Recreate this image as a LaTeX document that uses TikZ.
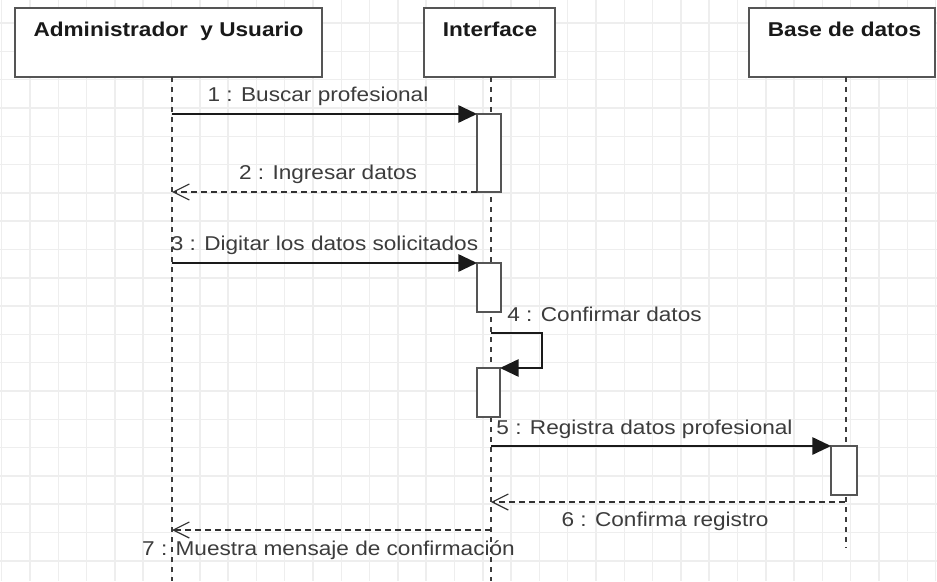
\documentclass[tikz,border=0pt]{standalone}
\usepackage{fontspec}
\setmainfont[FakeStretch=1.13]{Liberation Sans}
\usetikzlibrary{arrows.meta,fit}
\definecolor{gridc}{HTML}{EEEEEE}
\definecolor{boxc}{HTML}{555555}
\definecolor{labc}{HTML}{3C3C3C}
\definecolor{linec}{HTML}{1A1A1A}
\begin{document}
\begin{tikzpicture}[x=0.75pt,y=-0.75pt,
  gridline/.style={draw=gridc, line width=1.1pt},
  actorbox/.style={draw=boxc, line width=1.5pt, fill=white, inner sep=0pt, outer sep=0pt},
  actbox/.style={draw=boxc, line width=1.5pt, fill=white, inner sep=0pt, outer sep=0pt},
  head/.style={font=\fontsize{15pt}{18pt}\selectfont\bfseries, text=black!90, inner sep=0pt, anchor=base},
  msglabel/.style={font=\fontsize{15pt}{18pt}\selectfont, text=labc, inner sep=0pt, anchor=base},
  life/.style={draw=linec!85, line width=1.1pt, dash pattern=on 3.75pt off 3.75pt},
  sync/.style={draw=linec, line width=1.4pt, -{Triangle[length=14pt,width=13pt]}},
  ret/.style={draw=linec!90, line width=1.1pt, dash pattern=on 4.5pt off 3pt,
              -{Straight Barb[length=12pt,width=12pt,line width=0.9pt]}}
]
% canvas
\fill[white] (0,0) rectangle (937,581);
\useasboundingbox (0,0) rectangle (937,581);

% background grid
\foreach \i in {0,...,33} {\draw[gridline] ({1.7+28.3*\i},0) -- ({1.7+28.3*\i},581);}
\foreach \j in {0,...,19} {\draw[gridline] (0,{23.1+28.3*\j}) -- (937,{23.1+28.3*\j});}

% participants
\node[actorbox, fit={(15,8) (322,77)}] (A) {};
\node[actorbox, fit={(424,8) (555,77)}] (I) {};
\node[actorbox, fit={(749,8) (935,77)}] (B) {};
\node[head] (At) at (168.5,37) {Administrador~ y Usuario};
\node[head] (It) at (490,37) {Interface};
\node[head] (Bt) at (844.5,37) {Base de datos};

% lifelines
\coordinate (LA) at (172,77);   \coordinate (LAe) at (172,581);
\coordinate (LI) at (491,77);   \coordinate (LIe) at (491,581);
\coordinate (LB) at (846,77);   \coordinate (LBe) at (846,548);
\draw[life] (LA) -- (LAe);
\draw[life] (LI) -- (LIe);
\draw[life] (LB) -- (LBe);

% activation bars
\node[actbox, fit={(477,114) (501,192)}] (act1) {};
\node[actbox, fit={(477,263) (501,312)}] (act2) {};
\node[actbox, fit={(477,368) (500,417)}] (act3) {};
\node[actbox, fit={(831,446) (857,495)}] (act4) {};

% messages
\draw[sync] (LA |- act1.north west) -- (act1.north west);
\draw[ret] (act1.south west) -- (LA |- act1.south west);
\draw[sync] (LA |- act2.north west) -- (act2.north west);
\coordinate (m4b) at (542,333);
\coordinate (m4c) at (542,368);
\draw[sync] (LI |- m4b) -- (m4b) -- (m4c) -- (act3.north east);
\draw[sync] (LI |- act4.north west) -- (act4.north west);
\coordinate (m6s) at (845,502);
\draw[ret] (m6s) -- (LI |- m6s);
\coordinate (m7s) at (491,530);
\draw[ret] (m7s) -- (LA |- m7s);

% message labels
\node[msglabel] (l1) at (318,102) {1 : Buscar profesional};
\node[msglabel] (l2) at (328,179) {2 : Ingresar datos};
\node[msglabel] (l3) at (324.5,250) {3 : Digitar los datos solicitados};
\node[msglabel] (l4) at (604.5,321) {4 : Confirmar datos};
\node[msglabel] (l5) at (644.5,434) {5 : Registra datos profesional};
\node[msglabel] (l6) at (665,526) {6 : Confirma registro};
\node[msglabel] (l7) at (328.5,555) {7 : Muestra mensaje de confirmación};
\end{tikzpicture}
\end{document}
